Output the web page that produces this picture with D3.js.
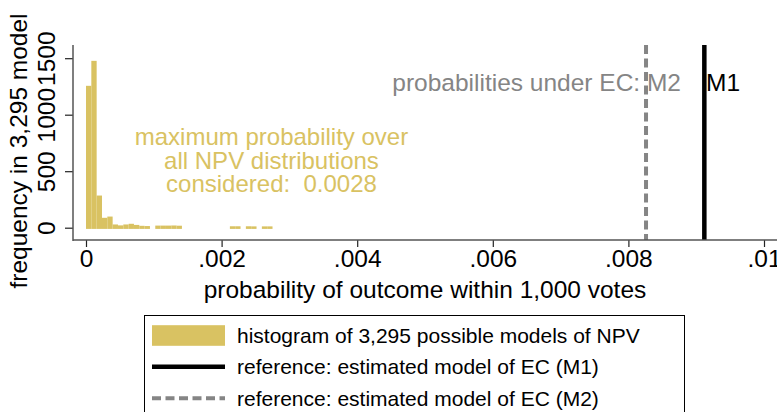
<!DOCTYPE html>
<html>
<head>
<meta charset="utf-8">
<script src="https://cdn.jsdelivr.net/npm/d3@7"></script>
<style>
  body { margin: 0; background: #fff; }
  svg { display: block; font-family: "Liberation Sans", Arial, sans-serif; }
</style>
</head>
<body>
<div id="chart"></div>
<script>
//chart data
const binWidth = 0.0000786;
const binCounts = [1245, 1466, 274, 77, 88, 18, 10, 18, 24, 14, 6, 4, 0, 8, 8, 8, 9, 7,
  0, 0, 0, 0, 0, 0, 0, 0, 0, 2, 2, 0, 2, 1, 0, 1, 1];
const xTicks = [0, 0.002, 0.004, 0.006, 0.008, 0.01];
const xTickLabels = ["0", ".002", ".004", ".006", ".008", ".01"];
const yTicks = [0, 500, 1000, 1500];
const refLines = [
  { name: "M2", value: 0.00826 },
  { name: "M1", value: 0.00912 }
];
const annotationLines = ["maximum probability over", "all NPV distributions", "considered:  0.0028"];
const legendLabels = [
  "histogram of 3,295 possible models of NPV",
  "reference: estimated model of EC (M1)",
  "reference: estimated model of EC (M2)"
];

//setting visual dimensions
const width = 777;
const height = 412;
const sand = "#d9c262";
const grey = "#858585";
const bigFont = "24.5px";

const svg = d3.select("#chart")
  .append("svg")
  .attr("width", width)
  .attr("height", height);

//scales
const x = d3.scaleLinear().domain([0, 0.01]).range([86, 764]);
const y = d3.scaleLinear().domain([0, 1500]).range([227.7, 58.2]);

//histogram bars (a thin outline like stata draws)
const bins = binCounts.map((c, i) => ({ x0: i * binWidth, x1: (i + 1) * binWidth, count: c }))
  .filter(d => d.count > 0);

svg.append("g")
  .selectAll("rect")
  .data(bins)
  .enter()
  .append("rect")
  .attr("x", d => x(d.x0))
  .attr("width", d => x(d.x1) - x(d.x0))
  .attr("y", d => y(d.count) - 1.2)
  .attr("height", d => y(0) - y(d.count) + 2.4)
  .attr("fill", sand);

//reference lines
svg.append("line")
  .attr("x1", x(refLines[0].value)).attr("x2", x(refLines[0].value))
  .attr("y1", 45).attr("y2", 240)
  .attr("stroke", grey).attr("stroke-width", 4)
  .attr("stroke-dasharray", "9,4.5");

svg.append("line")
  .attr("x1", x(refLines[1].value)).attr("x2", x(refLines[1].value))
  .attr("y1", 45).attr("y2", 240)
  .attr("stroke", "#000").attr("stroke-width", 4.5);

//axes
const xAxis = d3.axisBottom(x)
  .tickValues(xTicks)
  .tickFormat((d, i) => xTickLabels[i])
  .tickSize(7)
  .tickPadding(3);

const gx = svg.append("g")
  .attr("transform", "translate(0,240)")
  .call(xAxis);
gx.select(".domain").remove();
gx.append("line")
  .attr("x1", 73).attr("x2", width)
  .attr("stroke", "#555").attr("stroke-width", 1.5);
gx.selectAll(".tick line").attr("stroke", "#222").attr("stroke-width", 1.2);
gx.selectAll(".tick text")
  .attr("fill", "#000")
  .style("font-size", bigFont)
  .style("font-family", "Liberation Sans, Arial, sans-serif");

const yAxis = d3.axisLeft(y)
  .tickValues(yTicks)
  .tickFormat(d3.format("d"))
  .tickSize(8);

const gy = svg.append("g")
  .attr("transform", "translate(73,0)")
  .call(yAxis);
gy.select(".domain").remove();
gy.append("line")
  .attr("y1", 45).attr("y2", 241)
  .attr("stroke", "#555").attr("stroke-width", 1.5);
gy.selectAll(".tick line").attr("stroke", "#222").attr("stroke-width", 1.2);
gy.selectAll(".tick text")
  .attr("fill", "#000")
  .attr("x", null).attr("dy", null)
  .attr("text-anchor", "middle")
  .attr("transform", "translate(-18,0) rotate(-90)")
  .style("font-size", bigFont)
  .style("font-family", "Liberation Sans, Arial, sans-serif");

//axis titles
svg.append("text")
  .attr("x", 425)
  .attr("y", 298)
  .attr("text-anchor", "middle")
  .style("font-size", bigFont)
  .text("probability of outcome within 1,000 votes");

svg.append("text")
  .attr("transform", "translate(27,151) rotate(-90)")
  .attr("text-anchor", "middle")
  .style("font-size", bigFont)
  .text("frequency in 3,295 model");

//line labels
svg.append("text")
  .attr("x", 681)
  .attr("y", 91)
  .attr("text-anchor", "end")
  .attr("fill", grey)
  .style("font-size", bigFont)
  .text("probabilities under EC: " + refLines[0].name);

svg.append("text")
  .attr("x", 706)
  .attr("y", 91)
  .attr("fill", "#000")
  .style("font-size", bigFont)
  .text(refLines[1].name);

//annotation
svg.append("g")
  .selectAll("text")
  .data(annotationLines)
  .enter()
  .append("text")
  .attr("x", 271.5)
  .attr("y", (d, i) => 145 + i * 23.5)
  .attr("text-anchor", "middle")
  .attr("fill", sand)
  .style("font-size", "24px")
  .style("white-space", "pre")
  .text(d => d);

//legend
const legend = svg.append("g");
legend.append("rect")
  .attr("x", 144.5).attr("y", 315.5)
  .attr("width", 540).attr("height", 120)
  .attr("fill", "none").attr("stroke", "#000").attr("stroke-width", 1);

const rowY = [335.5, 366.7, 398.3];
legend.append("rect")
  .attr("x", 152).attr("y", rowY[0] - 10.3)
  .attr("width", 73).attr("height", 20.6)
  .attr("fill", sand);
legend.append("line")
  .attr("x1", 152).attr("x2", 225)
  .attr("y1", rowY[1]).attr("y2", rowY[1])
  .attr("stroke", "#000").attr("stroke-width", 4.5);
legend.append("line")
  .attr("x1", 152).attr("x2", 225)
  .attr("y1", rowY[2]).attr("y2", rowY[2])
  .attr("stroke", grey).attr("stroke-width", 4)
  .attr("stroke-dasharray", "9,4.5");

legend.selectAll("text.lab")
  .data(legendLabels)
  .enter()
  .append("text")
  .attr("class", "lab")
  .attr("x", 237)
  .attr("y", (d, i) => rowY[i] + 7.5)
  .style("font-size", "21px")
  .text(d => d);
</script>
</body>
</html>
